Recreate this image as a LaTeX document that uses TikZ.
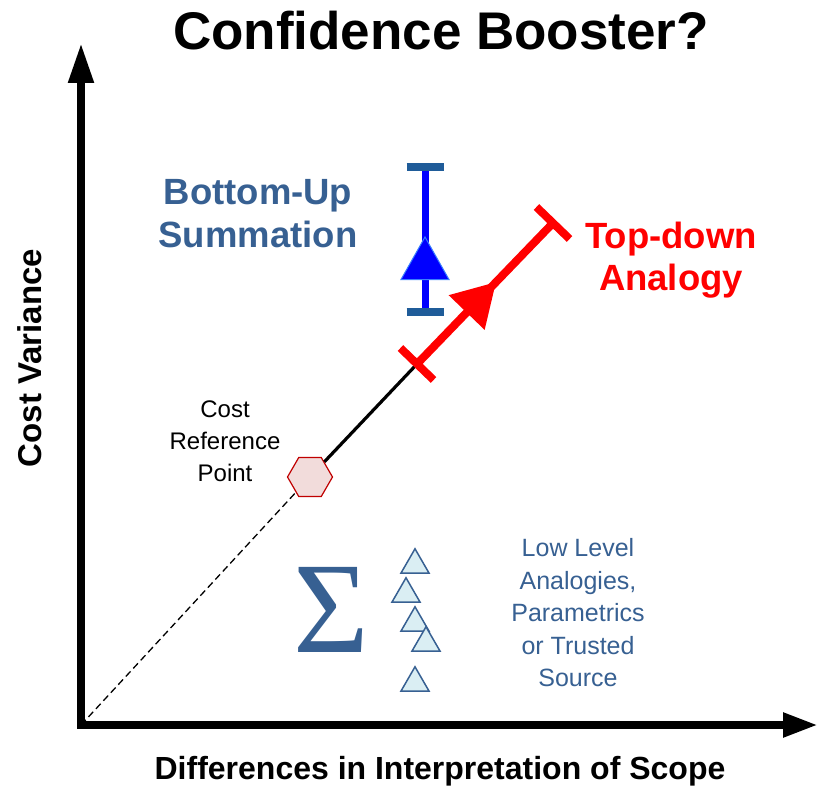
\documentclass[tikz,border=0pt]{standalone}
\usepackage{fontspec}
\setmainfont{Liberation Sans}
\newfontfamily\sigfont{Liberation Serif}
\usetikzlibrary{arrows.meta,shapes.geometric,calc}
\definecolor{txtblue}{HTML}{376092}
\definecolor{barblue}{HTML}{1F5C99}
\definecolor{hexfill}{HTML}{F2DCDB}
\definecolor{hexdraw}{HTML}{C00000}
\definecolor{trifill}{HTML}{DAEEF3}
\definecolor{triedge}{HTML}{3A80FF}
\begin{document}
\begin{tikzpicture}[x=1pt,y=-1pt,
  axisline/.style={line width=8pt, line join=miter},
  lbl/.style={inner sep=0pt, align=center},
  hexa/.style={regular polygon, regular polygon sides=6, minimum size=45pt, inner sep=0pt, draw=hexdraw, fill=hexfill, line width=1.2pt},
  smalltri/.style={regular polygon, regular polygon sides=3, minimum size=32.4pt, inner sep=0pt, draw=txtblue, fill=trifill, line width=1.5pt},
  redline/.style={red, line width=8pt},
  barline/.style={barblue, line width=8pt},
]
\useasboundingbox (0,0) rectangle (819,789);
% axes
\coordinate (O) at (81,725);
\coordinate (ytop) at (81,43);
\coordinate (xend) at (818,725);
\draw[axisline, {Triangle[length=40pt,width=24pt]}-{Triangle[length=35pt,width=23pt]}] (ytop) -- (O) -- (xend);
% reference point
\node[hexa] (ref) at (310,477) {};
\draw[line width=1.3pt, dash pattern=on 7pt off 4pt] (O) -- (ref);
% red segment
\coordinate (rA) at (417,364);
\coordinate (rB) at (553,223);
\draw[line width=3.2pt] (ref) -- (rA);
\draw[redline] (rA) -- (rB);
\draw[redline] ($(rA)!23pt!90:(rB)$) -- ($(rA)!23pt!-90:(rB)$);
\draw[redline] ($(rB)!23pt!90:(rA)$) -- ($(rB)!23pt!-90:(rA)$);
\coordinate (rT) at ($(rA)!0.58!(rB)$);
\coordinate (rM) at ($(rA)!0.365!(rB)$);
\fill[red] (rT) -- ($(rM)!25pt!90:(rB)$) -- ($(rM)!25pt!-90:(rB)$) -- cycle;
% blue segment
\coordinate (bT) at (425,167);
\coordinate (bB) at (425,311.5);
\draw[blue, line width=7pt] (bT) -- (bB);
\draw[barline] ($(bT)+(-18.5,0)$) -- ($(bT)+(18.5,0)$);
\draw[barline] ($(bB)+(-18.5,0)$) -- ($(bB)+(18.5,0)$);
\filldraw[fill=blue, draw=triedge, line width=1pt] (425,237) -- (401,279.5) -- (449,279.5) -- cycle;
% small triangles
\node[smalltri] (t1) at (415,565) {};
\node[smalltri] (t2) at (406,594) {};
\node[smalltri] (t3) at (415,623) {};
\node[smalltri] (t4) at (426,643) {};
\node[smalltri] (t5) at (415,683) {};
% sigma
\node[inner sep=0pt, font=\sigfont\fontsize{130}{130}\selectfont, text=txtblue] (sig) at (331,610) {Σ};
% texts
\node[lbl, font=\fontsize{53}{60}\selectfont\bfseries] (title) at (441,31) {Confidence Booster?};
\node[lbl, font=\fontsize{36.5}{43}\selectfont\bfseries, text=txtblue] (bu) at (258,214) {Bottom-Up\\Summation};
\node[lbl, font=\fontsize{36.5}{42}\selectfont\bfseries, text=red] (td) at (671,260) {Top-down\\Analogy};
\node[lbl, font=\fontsize{24}{32}\selectfont] (crp) at (225,441) {Cost\\Reference\\Point};
\node[lbl, font=\fontsize{25}{32.5}\selectfont, text=txtblue] (llv) at (578,613) {Low Level\\Analogies,\\Parametrics\\or Trusted\\Source};
\node[lbl, font=\fontsize{33}{40}\selectfont\bfseries, rotate=90] (ylab) at (30,358) {Cost Variance};
\node[lbl, font=\fontsize{32}{40}\selectfont\bfseries] (xlab) at (440,771) {Differences in Interpretation of Scope};
\end{tikzpicture}
\end{document}
